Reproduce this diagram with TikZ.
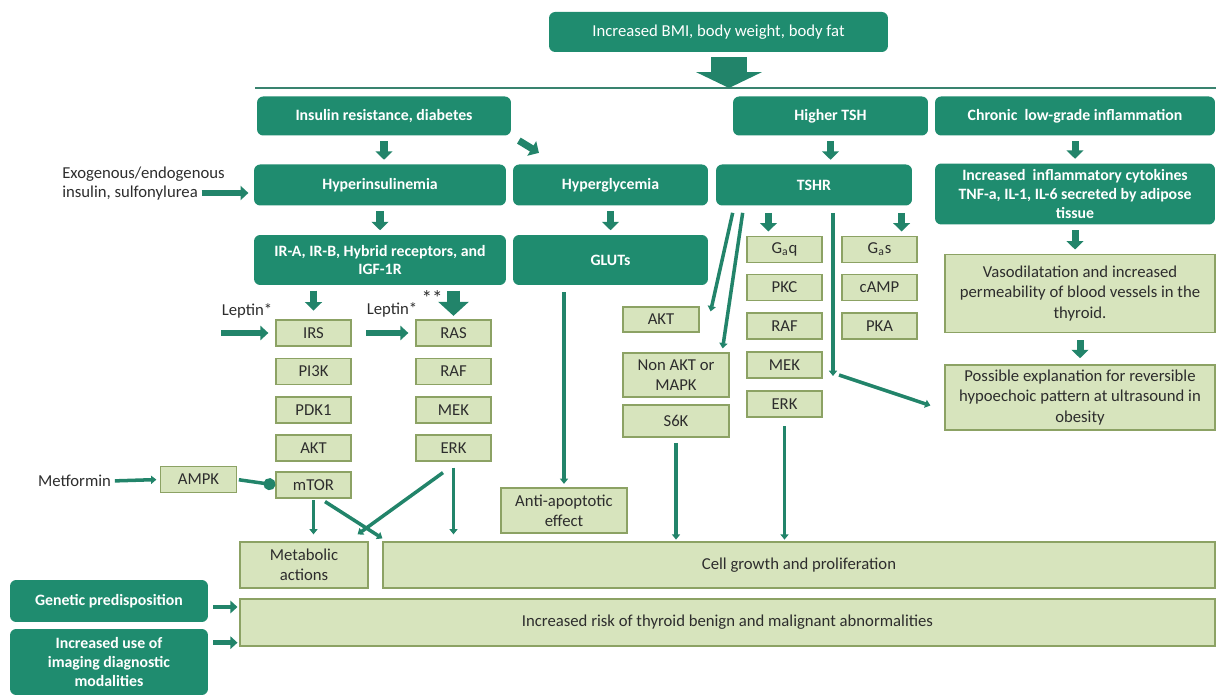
\documentclass[tikz,border=0pt]{standalone}
\usepackage{fontspec}
\setmainfont{Carlito}
\usepackage{tikz}
\usetikzlibrary{arrows.meta, positioning, calc}

\definecolor{boxgreen}{RGB}{31,140,111}
\definecolor{palegreen}{RGB}{215,228,189}
\definecolor{paleedge}{RGB}{140,162,100}
\definecolor{arrowgreen}{RGB}{34,132,106}
\definecolor{inkgray}{RGB}{45,45,45}

\begin{document}
\begin{tikzpicture}[
    x=0.02cm, y=-0.02cm,
    dark/.style={
        rectangle, rounded corners=3.5pt, fill=boxgreen, text=white,
        font=\fontsize{9}{10.8}\selectfont\bfseries, align=center, inner sep=1pt
    },
    pale/.style={
        rectangle, fill=palegreen, draw=paleedge, line width=0.7pt,
        text=inkgray, font=\fontsize{9.5}{11.5}\selectfont, align=center, inner sep=1pt
    },
    kin/.style={pale, minimum width=1.5cm, minimum height=0.52cm},
    txt/.style={text=inkgray, font=\fontsize{9.5}{11.5}\selectfont, inner sep=0pt},
    blk/.style={draw=arrowgreen, line width=4pt, shorten <=3pt, shorten >=2.5pt,
        -{Triangle[width=9.5pt, length=4.8pt]}},
    side/.style={draw=arrowgreen, line width=3pt, -{Triangle[width=8pt, length=4.5pt]}},
    wire/.style={draw=arrowgreen, line width=2pt, -{Triangle[width=4.6pt, length=3pt]}},
    stopper/.style={draw=arrowgreen, line width=2pt, -{Circle[length=6.8pt]}},
    every node/.style={align=center}
]
\useasboundingbox (0,0) rectangle (1216,695);

% --- Top cause and divider ---
\node[dark, font=\fontsize{9.5}{11}\selectfont, minimum width=6.78cm, minimum height=0.8cm] (bmi) at (718.5,32) {Increased BMI, body weight, body fat};
\coordinate (hlL) at (255,88);
\coordinate (hlR) at (1216,88);
\coordinate (hlM) at (729,88);
\draw[arrowgreen!75!gray, line width=0.8pt] (hlL) -- (hlR);
\draw[draw=arrowgreen, line width=20pt, shorten <=2.8pt, -{Triangle[width=37pt, length=9pt]}] (hlM |- bmi.south) -- (hlM);

% --- Row 1 ---
\node[dark, minimum width=5.08cm, minimum height=0.78cm] (insres) at (384,116) {Insulin resistance, diabetes};
\node[dark, minimum width=3.9cm, minimum height=0.78cm] (hightsh) at (830.5,116) {Higher TSH};
\node[dark, minimum width=5.6cm, minimum height=0.78cm] (chronic) at (1075,116) {Chronic\ \ low-grade inflammation};

% --- Row 2 ---
\node[dark, minimum width=5.04cm, minimum height=0.82cm] (hypins) at (380,185) {Hyperinsulinemia};
\node[dark, minimum width=3.9cm, minimum height=0.82cm] (hypgly) at (610.5,185) {Hyperglycemia};
\node[dark, minimum width=3.92cm, minimum height=0.82cm] (tshr) at (814,185) {TSHR};
\node[dark, minimum width=5.6cm, minimum height=1.22cm] (cyto) at (1075,194) {Increased\ \ inflammatory cytokines\\TNF-a, IL-1, IL-6 secreted by adipose\\tissue};

\node[txt, anchor=west] (exog) at (62,174) {Exogenous/endogenous};
\node[txt, anchor=west] (sulf) at (62,193) {insulin, sulfonylurea};

% --- Row 3 ---
\node[dark, minimum width=5.04cm, minimum height=1.0cm] (recep) at (380,260) {IR-A, IR-B, Hybrid receptors, and\\IGF-1R};
\node[dark, minimum width=3.9cm, minimum height=1.0cm] (gluts) at (610.5,260) {GLUTs};

% --- PI3K / AKT chain ---
\node[kin] (irs) at (313.5,333) {IRS};
\node[kin] (pik) at (313.5,371.5) {PI3K};
\node[kin] (pdk) at (313.5,410) {PDK1};
\node[kin] (akt) at (313.5,448) {AKT};
\node[kin] (mtor) at (313.5,485) {mTOR};

% --- RAS / MAPK chain ---
\node[kin] (ras) at (453.5,333) {RAS};
\node[kin] (raf) at (453.5,371.5) {RAF};
\node[kin] (mek) at (453.5,410) {MEK};
\node[kin] (erk) at (453.5,448) {ERK};

\node[txt] (lep1) at (247,311) {Leptin*};
\node[txt] (lep2) at (392,310) {Leptin*};
\node[txt, font=\fontsize{12}{12}\selectfont] (stars) at (432,298) {**};

\node[kin, minimum width=1.52cm] (ampk) at (198.5,479.5) {AMPK};
\node[txt] (metf) at (74.5,481) {Metformin};

% --- TSHR branches ---
\node[kin] (gaq) at (784.5,249.5) {G\textsubscript{a}q};
\node[kin] (pkc) at (784.5,287.5) {PKC};
\node[kin] (traf) at (784.5,326) {RAF};
\node[kin] (tmek) at (784.5,365) {MEK};
\node[kin] (terk) at (784.5,404) {ERK};
\node[kin] (gas) at (879.5,249.5) {G\textsubscript{a}s};
\node[kin] (camp) at (879.5,287.5) {cAMP};
\node[kin] (pka) at (879.5,326) {PKA};

\node[kin, minimum width=1.52cm, minimum height=0.5cm] (takt) at (661,319.5) {AKT};
\node[pale, minimum width=2.12cm, minimum height=0.88cm] (nonakt) at (676,375) {Non AKT or\\MAPK};
\node[pale, minimum width=2.12cm, minimum height=0.64cm] (s6k) at (676,421) {S6K};

\node[pale, minimum width=2.52cm, minimum height=0.9cm] (anti) at (564,510.5) {Anti-apoptotic\\effect};

% --- Inflammation column ---
\node[pale, minimum width=5.4cm, minimum height=1.56cm] (vaso) at (1080,293.5) {Vasodilatation and increased\\permeability of blood vessels in the\\thyroid.};
\node[pale, minimum width=5.4cm, minimum height=1.3cm] (possible) at (1080,397.5) {Possible explanation for reversible\\hypoechoic pattern at ultrasound in\\obesity};

% --- Outcomes ---
\node[pale, minimum width=2.56cm, minimum height=0.92cm] (metab) at (304,565) {Metabolic\\actions};
\node[pale, minimum width=16.64cm, minimum height=0.92cm] (cell) at (799,565) {Cell growth and proliferation};
\node[pale, minimum width=19.5cm, minimum height=0.94cm] (risk) at (727.5,622.5) {Increased risk of thyroid benign and malignant abnormalities};
\node[dark, minimum width=3.96cm, minimum height=0.84cm] (genetic) at (109,601) {Genetic predisposition};
\node[dark, minimum width=3.96cm, minimum height=1.32cm] (imaging) at (109,662) {Increased use of\\imaging diagnostic\\modalities};

% --- Block arrows between stages ---
\draw[blk] (insres.south) -- (insres.south |- hypins.north);
\draw[blk] (hypins.south) -- (hypins.south |- recep.north);
\draw[blk] (hypgly.south) -- (hypgly.south |- gluts.north);
\draw[blk] (hightsh.south) -- (hightsh.south |- tshr.north);
\draw[blk] (chronic.south) -- (chronic.south |- cyto.north);
\draw[blk] (cyto.south) -- (cyto.south |- vaso.north);
\draw[blk, shorten <=4pt, shorten >=3.5pt] (vaso.south) -- (vaso.south |- possible.north);
\draw[blk] ($(insres.south east)+(3,2)$) -- ($(hypgly.north west)+(30,-9)$);
\draw[blk, shorten >=5pt] (irs.north |- recep.south) -- (irs.north);
\draw[draw=arrowgreen, line width=7pt, shorten <=3pt, shorten >=2pt,
    -{Triangle[width=17pt, length=8pt]}] (ras.north |- recep.south) -- (ras.north);
\coordinate (gq) at ($(gaq.north west)+(22,0)$);
\coordinate (gs) at ($(gas.north east)+(-16,0)$);
\draw[blk, shorten <=4pt] (gq |- tshr.south) -- (gq);
\draw[blk, shorten <=4pt] (gs |- tshr.south) -- (gs);

% --- Side inputs ---
\draw[side, shorten <=2pt, shorten >=3pt] (sulf.east) -- (sulf.east -| hypins.west);
\draw[side, shorten >=4pt] (lep1.south west |- irs.west) -- (irs.west);
\draw[side, shorten >=4pt] (lep2.south west |- ras.west) -- (ras.west);
\draw[side, line width=2.5pt, -{Triangle[width=7pt, length=4pt]}] ($(genetic.east)+(5,6)$) -- ($(genetic.east -| risk.west)+(-2,6)$);
\draw[side, line width=2.5pt, -{Triangle[width=7pt, length=4pt]}] ($(imaging.north east)+(5,14)$) -- ($(imaging.north east -| risk.west)+(-2,14)$);
\draw[wire, shorten <=2pt, shorten >=2pt] (metf.east) -- (ampk.west);
\draw[stopper, shorten <=1pt] (ampk.east) -- (mtor.west);

% --- Thin pathway lines ---
\draw[wire, shorten <=4pt, shorten >=2pt] (anti.north |- gluts.south) -- (anti.north);
\draw[wire, shorten <=1pt, shorten >=4pt] (mtor.south) -- (mtor.south |- metab.north);
\draw[wire] ($(mtor.south)+(11.5,3)$) -- ($(cell.north west)+(0,-3)$);
\draw[wire] ($(erk.south)+(-10.5,11)$) -- ($(metab.north east)+(-11,-7)$);
\draw[wire, shorten <=3.4pt, shorten >=4pt] (erk.south) -- (erk.south |- cell.north);
\draw[wire, shorten <=3pt, shorten >=1pt] (s6k.south) -- (s6k.south |- cell.north);
\draw[wire, shorten <=5pt, shorten >=1pt] (terk.south) -- (terk.south |- cell.north);
\draw[wire] ($(tshr.south west)+(17,7)$) -- ($(takt.north east)+(11,5)$);
\draw[wire] ($(tshr.south west)+(27,7)$) -- ($(nonakt.north east)+(-7,-4)$);
\coordinate (tbend) at (833,376);
\draw[wire, shorten <=4pt] (tbend |- tshr.south) -- (tbend);
\draw[wire] ($(tbend)+(6,-1)$) -- ($(possible.west)+(-14,8)$);

\end{tikzpicture}
\end{document}
